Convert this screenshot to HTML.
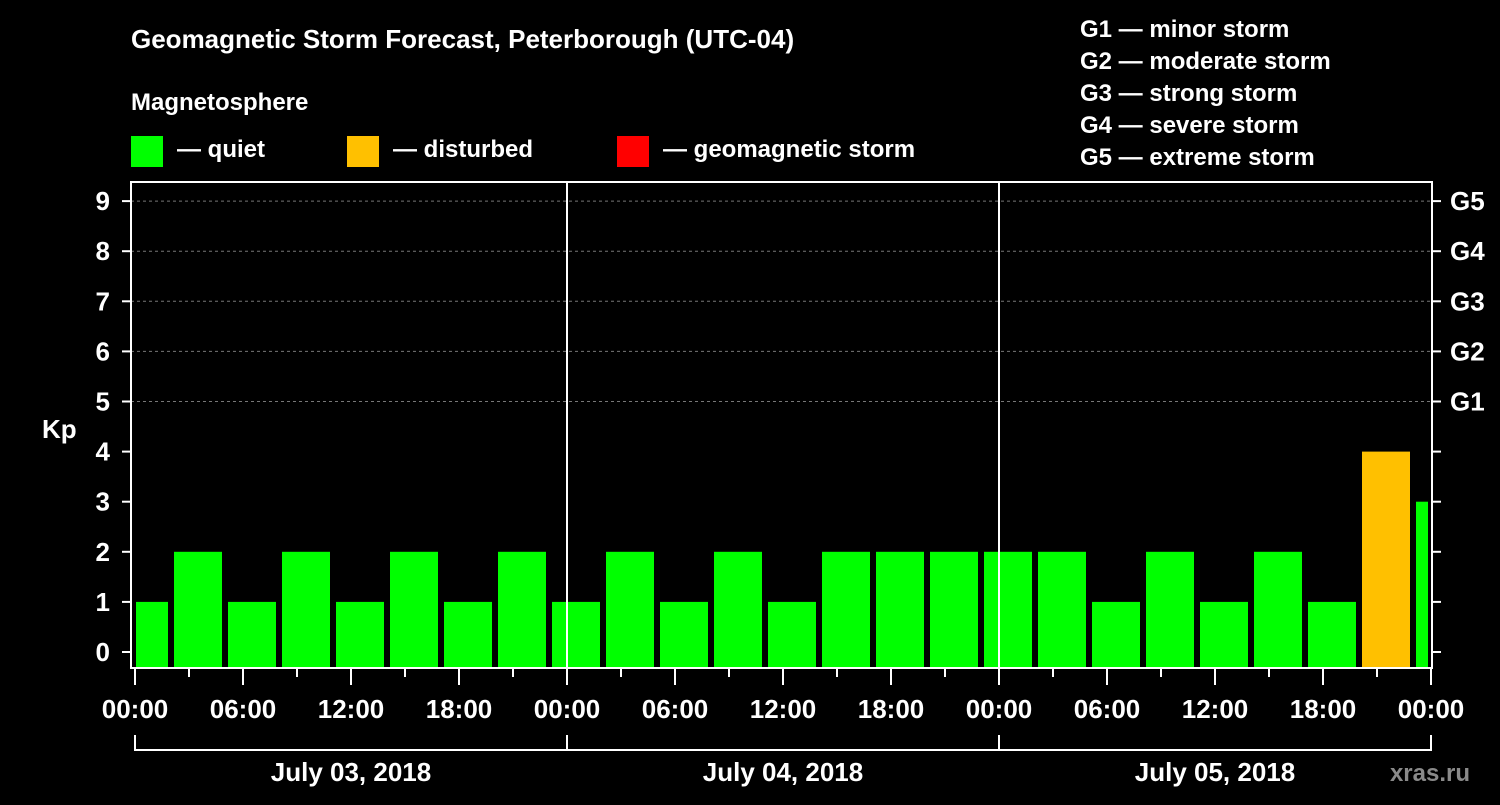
<!DOCTYPE html>
<html><head><meta charset="utf-8"><style>
body{margin:0;background:#000;width:1500px;height:800px;overflow:hidden}
svg text{font-family:"Liberation Sans",sans-serif;font-weight:bold;fill:#fff}
</style></head><body>
<svg width="1500" height="800">
<text x="131" y="48" font-size="26">Geomagnetic Storm Forecast, Peterborough (UTC-04)</text>
<text x="131" y="110" font-size="24">Magnetosphere</text>
<g><rect x="131" y="136" width="32" height="31" fill="#00ff00"/><text x="177" y="157" font-size="24">— quiet</text></g>
<g><rect x="347" y="136" width="32" height="31" fill="#ffc000"/><text x="393" y="157" font-size="24">— disturbed</text></g>
<g><rect x="617" y="136" width="32" height="31" fill="#ff0000"/><text x="663" y="157" font-size="24">— geomagnetic storm</text></g>
<g font-size="24">
<text x="1080" y="37">G1 — minor storm</text><text x="1080" y="69">G2 — moderate storm</text><text x="1080" y="101">G3 — strong storm</text><text x="1080" y="133">G4 — severe storm</text><text x="1080" y="165">G5 — extreme storm</text></g>
<text x="42" y="438" font-size="26">Kp</text>
<g id="grid"></g><g id="bars"></g><g id="axes"></g>
<text x="1470" y="781" font-size="24" fill="#888" style="fill:#8a8a8a" text-anchor="end">xras.ru</text>
</svg>
<script>
const kpValues=[1,2,1,2,1,2,1,2,1,2,1,2,1,2,2,2,2,2,1,2,1,2,1,4,3];
const binStartHours=[-1,2,5,8,11,14,17,20,23,26,29,32,35,38,41,44,47,50,53,56,59,62,65,68,71];
const yTicks=[0,1,2,3,4,5,6,7,8,9];
const gLabels=["G1","G2","G3","G4","G5"];
const timeLabels=["00:00","06:00","12:00","18:00","00:00","06:00","12:00","18:00","00:00","06:00","12:00","18:00","00:00"];
const dayLabels=["July 03, 2018","July 04, 2018","July 05, 2018"];
const NS="http://www.w3.org/2000/svg";
const L=131,R=1432,T=182,B=668;
const xs=h=>135+h*18;
const ys=v=>652-v*50.1;
function mk(p,t,a){const e=document.createElementNS(NS,t);for(const k in a)e.setAttribute(k,a[k]);p.appendChild(e);return e;}
const grid=document.getElementById('grid'),bars=document.getElementById('bars'),axes=document.getElementById('axes');
for(let v=5;v<=9;v++){const l=mk(grid,'line',{x1:L,x2:R,y1:ys(v),y2:ys(v),stroke:'#777','stroke-dasharray':'3,3','stroke-width':1});

}
kpValues.forEach((v,i)=>{let x0=xs(binStartHours[i])+3,x1=x0+48;x0=Math.max(x0,136);x1=Math.min(x1,1428);
const c=v>=5?'#ff0000':(v>=4?'#ffc000':'#00ff00');
const r=mk(bars,'rect',{x:x0,y:ys(v),width:x1-x0,height:B-ys(v),fill:c});

});
mk(axes,'rect',{x:L,y:T,width:R-L,height:B-T,fill:'none',stroke:'#fff','stroke-width':2});
[1,2].forEach(d=>mk(axes,'line',{x1:xs(24*d),x2:xs(24*d),y1:T,y2:B,stroke:'#fff','stroke-width':2}));
yTicks.forEach(v=>{mk(axes,'line',{x1:122,x2:L,y1:ys(v),y2:ys(v),stroke:'#fff','stroke-width':2});
mk(axes,'line',{x1:R,x2:1441,y1:ys(v),y2:ys(v),stroke:'#fff','stroke-width':2});
const t=mk(axes,'text',{x:110,y:ys(v)+9,'font-size':26,'text-anchor':'end'});t.textContent=v;

});
gLabels.forEach((g,i)=>{const t=mk(axes,'text',{x:1450,y:ys(5+i)+9,'font-size':26});t.textContent=g;

});
for(let h=0;h<=72;h+=3){const long=h%6==0;mk(axes,'line',{x1:xs(h),x2:xs(h),y1:B,y2:B+(long?17:9),stroke:'#fff','stroke-width':2});}
timeLabels.forEach((s,i)=>{const t=mk(axes,'text',{x:xs(i*6),y:718,'font-size':26,'text-anchor':'middle'});t.textContent=s;

});
mk(axes,'path',{d:`M${xs(0)},735V750H${xs(72)}V735M${xs(24)},735V750M${xs(48)},735V750`,stroke:'#fff','stroke-width':2,fill:'none'});
dayLabels.forEach((s,i)=>{const t=mk(axes,'text',{x:xs(i*24+12),y:781,'font-size':26,'text-anchor':'middle'});t.textContent=s;

});
</script>
</body></html>
